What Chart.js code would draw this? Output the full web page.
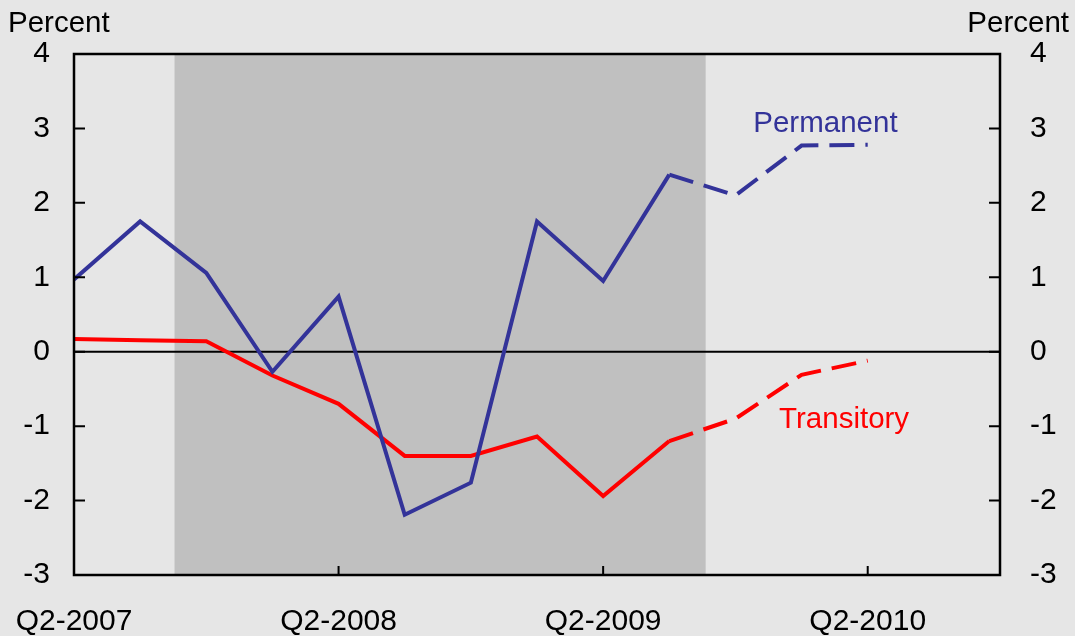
<!DOCTYPE html>
<html>
<head>
<meta charset="utf-8">
<script src="https://cdn.jsdelivr.net/npm/chart.js@4"></script>
<style>
  html, body { margin: 0; padding: 0; background: #e6e6e6; }
  #wrap { width: 1075px; height: 636px; }
</style>
</head>
<body>
<div id="wrap"><canvas id="chart"></canvas></div>
<script>
// quarters from Q2-2007 to Q2-2010
const quarters = ['Q2-2007', 'Q3-2007', 'Q4-2007', 'Q1-2008', 'Q2-2008', 'Q3-2008', 'Q4-2008',
                  'Q1-2009', 'Q2-2009', 'Q3-2009', 'Q4-2009', 'Q1-2010', 'Q2-2010'];
const permanent  = [0.97, 1.75, 1.06, -0.27, 0.74, -2.19, -1.76, 1.75, 0.95, 2.38, 2.10, 2.77, 2.78];
const transitory = [0.17, 0.155, 0.14, -0.32, -0.70, -1.40, -1.40, -1.14, -1.94, -1.20, -0.90, -0.31, -0.12];
const forecastFrom = 9;          // dashed from Q3-2009 on
const recession = [1.52, 9.55];  // shaded span, in quarters
const yTicks = [4, 3, 2, 1, 0, -1, -2, -3];
const xTickEvery = 4;
const xMax = 14;

const font = "'Liberation Sans', Arial, sans-serif";

const toPoints = arr => arr.map((v, i) => ({ x: i, y: v }));
const dashAfter = ctx => ctx.p0DataIndex >= forecastFrom ? [25, 11] : undefined;

const frame = {
  id: 'frame',
  beforeDraw(chart) {
    const c = chart.ctx;
    c.save();
    c.fillStyle = '#e6e6e6';
    c.fillRect(0, 0, chart.width, chart.height);
    c.restore();
  },
  beforeDatasetsDraw(chart) {
    const { ctx: c, chartArea: a, scales } = chart;
    c.save();
    // recession shading
    const x0 = scales.x.getPixelForValue(recession[0]);
    const x1 = scales.x.getPixelForValue(recession[1]);
    c.fillStyle = '#c0c0c0';
    c.fillRect(x0, a.top, x1 - x0, a.bottom - a.top);
    // zero line
    const y0 = scales.y.getPixelForValue(0);
    c.strokeStyle = '#000';
    c.lineWidth = 2;
    c.beginPath();
    c.moveTo(a.left, y0);
    c.lineTo(a.right, y0);
    c.stroke();
    c.restore();
  },
  afterDatasetsDraw(chart) {
    const { ctx: c, chartArea: a, scales } = chart;
    c.save();
    c.strokeStyle = '#000';
    c.lineWidth = 2.5;
    c.strokeRect(a.left, a.top, a.right - a.left, a.bottom - a.top);
    // inward ticks
    c.lineWidth = 2;
    c.beginPath();
    yTicks.forEach(v => {
      const py = scales.y.getPixelForValue(v);
      c.moveTo(a.left, py); c.lineTo(a.left + 11, py);
      c.moveTo(a.right, py); c.lineTo(a.right - 11, py);
    });
    for (let i = xTickEvery; i < xMax; i += xTickEvery) {
      const px = scales.x.getPixelForValue(i);
      c.moveTo(px, a.bottom); c.lineTo(px, a.bottom - 9);
    }
    c.stroke();

    // series labels
    c.font = '29.5px ' + font;
    c.textBaseline = 'middle';
    c.textAlign = 'left';
    c.fillStyle = '#333399';
    c.fillText('Permanent', scales.x.getPixelForValue(10.27), scales.y.getPixelForValue(3.06));
    c.fillStyle = '#ff0000';
    c.fillText('Transitory', scales.x.getPixelForValue(10.66), scales.y.getPixelForValue(-0.91));

    // unit labels
    c.fillStyle = '#000';
    c.textBaseline = 'alphabetic';
    c.fillText('Percent', 8, 32);
    c.textAlign = 'right';
    c.fillText('Percent', 1069, 32);
    c.restore();
  }
};

const tickFont = { family: font, size: 30 };

new Chart(document.getElementById('chart'), {
  type: 'line',
  data: {
    datasets: [
      {
        label: 'Permanent',
        data: toPoints(permanent),
        borderColor: '#333399',
        borderWidth: 4,
        pointRadius: 0,
        tension: 0,
        segment: { borderDash: dashAfter }
      },
      {
        label: 'Transitory',
        data: toPoints(transitory),
        borderColor: '#ff0000',
        borderWidth: 4,
        pointRadius: 0,
        tension: 0,
        segment: { borderDash: dashAfter }
      }
    ]
  },
  options: {
    responsive: true,
    maintainAspectRatio: false,
    animation: false,
    layout: { autoPadding: false, padding: { top: 54, left: 0, right: 0, bottom: 0 } },
    plugins: {
      legend: { display: false },
      tooltip: { enabled: false }
    },
    scales: {
      x: {
        type: 'linear',
        min: 0,
        max: xMax,
        grid: { display: false },
        border: { display: false },
        ticks: {
          stepSize: xTickEvery,
          includeBounds: false,
          autoSkip: false,
          maxRotation: 0,
          padding: 21,
          color: '#000',
          font: tickFont,
          callback: v => quarters[v] || ''
        },
        afterFit: s => { s.height = 61; s.paddingLeft = 0; s.paddingRight = 0; }
      },
      y: {
        position: 'left',
        min: -3,
        max: 4,
        grid: { display: false },
        border: { display: false },
        ticks: { stepSize: 1, padding: 16, color: '#000', font: tickFont },
        afterFit: s => { s.width = 74; }
      },
      y2: {
        position: 'right',
        min: -3,
        max: 4,
        grid: { display: false },
        border: { display: false },
        ticks: { stepSize: 1, padding: 22, color: '#000', font: tickFont },
        afterFit: s => { s.width = 75; }
      }
    }
  },
  plugins: [frame]
});
</script>
</body>
</html>
